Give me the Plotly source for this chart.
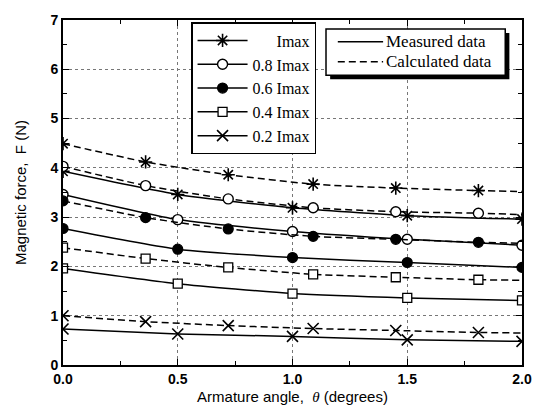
import plotly.graph_objects as go

# Armature angle (degrees) where each curve is sampled
theta_meas = [0.0, 0.5, 1.0, 1.5, 2.0]
theta_calc = [0.0, 0.36, 0.72, 1.09, 1.45, 1.81, 2.0]

# Measured magnetic force (N)
meas_imax = [3.93, 3.46, 3.19, 3.03, 2.96]
meas_08 = [3.46, 2.95, 2.71, 2.55, 2.43]
meas_06 = [2.77, 2.35, 2.18, 2.08, 1.98]
meas_04 = [1.96, 1.65, 1.45, 1.36, 1.31]
meas_02 = [0.73, 0.63, 0.58, 0.51, 0.48]

# Calculated magnetic force (N)
calc_imax = [4.49, 4.12, 3.86, 3.67, 3.59, 3.54, 3.52]
calc_08 = [4.03, 3.64, 3.37, 3.19, 3.11, 3.08, 3.05]
calc_06 = [3.33, 2.99, 2.76, 2.61, 2.55, 2.49, 2.47]
calc_04 = [2.38, 2.16, 1.98, 1.84, 1.78, 1.73, 1.72]
calc_02 = [1.00, 0.88, 0.80, 0.74, 0.70, 0.66, 0.65]

series_names = ["Imax", "0.8 Imax", "0.6 Imax", "0.4 Imax", "0.2 Imax"]
style_names = ["Measured data", "Calculated data"]
x_ticks = [0.0, 0.5, 1.0, 1.5, 2.0]
y_ticks = [0, 1, 2, 3, 4, 5, 6, 7]

measured = [meas_imax, meas_08, meas_06, meas_04, meas_02]
calculated = [calc_imax, calc_08, calc_06, calc_04, calc_02]

styles = [
    dict(symbol="asterisk-open", size=11, color="black", line=dict(color="black", width=1.6)),
    dict(symbol="circle", size=10, color="white", line=dict(color="black", width=1.4)),
    dict(symbol="circle", size=10, color="black", line=dict(color="black", width=1.2)),
    dict(symbol="square", size=9, color="white", line=dict(color="black", width=1.3)),
    dict(symbol="x-thin-open", size=11, color="black", line=dict(color="black", width=1.6)),
]

serif = "Liberation Serif, Times New Roman, serif"
sans = "Liberation Sans, Arial, sans-serif"
DASH = "7px,4px"

fig = go.Figure()

for name, ys, mk in zip(series_names, measured, styles):
    label = name if name != "Imax" else "\u00a0" * 6 + name
    fig.add_trace(go.Scatter(
        x=theta_meas, y=ys, mode="lines+markers", name=label,
        line=dict(color="black", width=1.5, shape="spline", smoothing=0.6),
        marker=dict(mk, opacity=1),
    ))

for ys, mk in zip(calculated, styles):
    # no marker on the closing point at the right edge
    sizes = [mk["size"]] * (len(theta_calc) - 1) + [0]
    fig.add_trace(go.Scatter(
        x=theta_calc, y=ys, mode="lines+markers", showlegend=False,
        line=dict(color="black", width=1.5, dash=DASH, shape="spline", smoothing=0.6),
        marker=dict(mk, size=sizes, opacity=1),
    ))

axis_common = dict(
    showline=True, linecolor="black", linewidth=1.8, mirror="ticks",
    ticks="inside", ticklen=6, tickwidth=1.2, tickcolor="black",
    showgrid=True, gridcolor="#777777", griddash="dot", gridwidth=1,
    zeroline=False,
    tickfont=dict(family=sans, size=14, color="black", weight="bold"),
)

fig.update_xaxes(
    range=[0, 2], tickvals=x_ticks, ticktext=[f"{v:.1f}" for v in x_ticks],
    minor=dict(dtick=0.25, ticks="inside", ticklen=4, tickcolor="black", showgrid=False),
    title=dict(text="Armature angle,  <i><span style='font-family:Liberation Serif'>θ</span></i> (degrees)",
               font=dict(family=sans, size=15, color="black"), standoff=6),
    **axis_common,
)
fig.update_yaxes(
    range=[0, 7], tickvals=y_ticks,
    minor=dict(dtick=0.5, ticks="inside", ticklen=4, tickcolor="black", showgrid=False),
    title=dict(text="Magnetic force,  F (N)", font=dict(family=sans, size=15, color="black"), standoff=20),
    **axis_common,
)

# line-style key: shadowed box with a solid and a dashed sample
key_x0, key_x1, key_y0, key_y1 = 0.573, 0.9635, 0.840, 0.974
fig.add_shape(type="rect", xref="paper", yref="paper",
              x0=key_x0 + 0.009, x1=key_x1 + 0.009, y0=key_y0 - 0.012, y1=key_y1 - 0.012,
              fillcolor="black", line=dict(width=0), layer="above")
fig.add_shape(type="rect", xref="paper", yref="paper",
              x0=key_x0, x1=key_x1, y0=key_y0, y1=key_y1,
              fillcolor="white", line=dict(color="black", width=1.5), layer="above")
for yk, label, dash in zip([0.937, 0.879], style_names, ["solid", DASH]):
    fig.add_shape(type="line", xref="paper", yref="paper",
                  x0=0.5987, x1=0.6974, y0=yk, y1=yk,
                  line=dict(color="black", width=1.5, dash=dash), layer="above")
    fig.add_annotation(xref="paper", yref="paper", x=0.6996, y=yk,
                       xanchor="left", yanchor="middle", showarrow=False,
                       text=label, font=dict(family=serif, size=17, color="black"))

fig.update_layout(
    width=544, height=416,
    margin=dict(l=63, r=15, t=14, b=51),
    paper_bgcolor="white", plot_bgcolor="white",
    legend=dict(
        x=0.279, y=0.994, xanchor="left", yanchor="top",
        bgcolor="white", bordercolor="black", borderwidth=1.5,
        font=dict(family=serif, size=16, color="black"),
        itemwidth=50, tracegroupgap=0,
    ),
)

fig.write_html("out.html")
